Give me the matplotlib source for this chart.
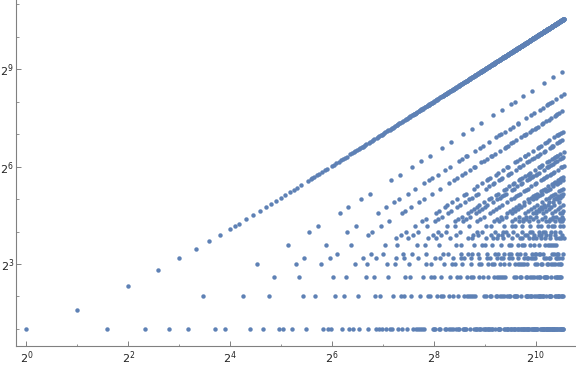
import numpy as np
import matplotlib.pyplot as plt

# sequence plotted: n = 1..1500, value taken from divisors of n+1
N_MAX = 1500
n_values = list(range(1, N_MAX + 1))

x_major_exp = [0, 2, 4, 6, 8, 10]
x_minor_exp = [1, 3, 5, 7, 9]
y_major_exp = [3, 6, 9]
y_minor_exp = [1, 2, 4, 5, 7, 8, 10, 11]


def largest_prime_factor(m):
    big, p = 1, 2
    while p * p <= m:
        while m % p == 0:
            big = p
            m //= p
        p += 1
    if m > 1:
        big = m
    return big


def is_prime(k):
    if k < 2:
        return False
    i = 2
    while i * i <= k:
        if k % i == 0:
            return False
        i += 1
    return True


def term(n):
    m = n + 1
    if m & (m - 1) == 0:
        return 2
    p = largest_prime_factor(m)
    d = m // p
    if d == 1 or (d % 2 == 1 and is_prime(d)) or (d % p == 0 and d <= p * p):
        return m
    return d


a_values = [term(n) for n in n_values]

fig = plt.figure(figsize=(5.76, 3.66), dpi=100)
ax = fig.add_axes([15.7 / 576, 20 / 366, 1 - 15.7 / 576, 1 - 20 / 366])

ax.plot(n_values, a_values, 'o', ms=3.2, mew=0, color='#5e81b5')

ax.set_xscale('log', base=2)
ax.set_yscale('log', base=2)
ax.set_xlim(2 ** -0.208, 2 ** 10.79)
ax.set_ylim(2 ** 0.473, 2 ** 11.136)

ax.set_xticks([2 ** k for k in x_major_exp])
ax.set_xticklabels([r'$2^{%d}$' % k for k in x_major_exp])
ax.set_xticks([2 ** k for k in x_minor_exp], minor=True)
ax.set_yticks([2 ** k for k in y_major_exp])
ax.set_yticklabels([r'$2^{%d}$' % k for k in y_major_exp])
ax.set_yticks([2 ** k for k in y_minor_exp], minor=True)
ax.xaxis.set_minor_formatter(plt.NullFormatter())
ax.yaxis.set_minor_formatter(plt.NullFormatter())

for s in ['top', 'right']:
    ax.spines[s].set_visible(False)
for s in ['left', 'bottom']:
    ax.spines[s].set_color('#808080')
    ax.spines[s].set_linewidth(0.8)

ax.tick_params(which='major', direction='in', length=3.3, width=0.7,
               color='#808080', labelsize=8, labelcolor='#222222')
ax.tick_params(axis='x', which='major', pad=2.5)
ax.tick_params(axis='y', which='major', pad=1.2)
ax.tick_params(which='minor', direction='in', length=1.8, width=0.6,
               color='#808080')

fig.savefig('out.png', dpi=100)
